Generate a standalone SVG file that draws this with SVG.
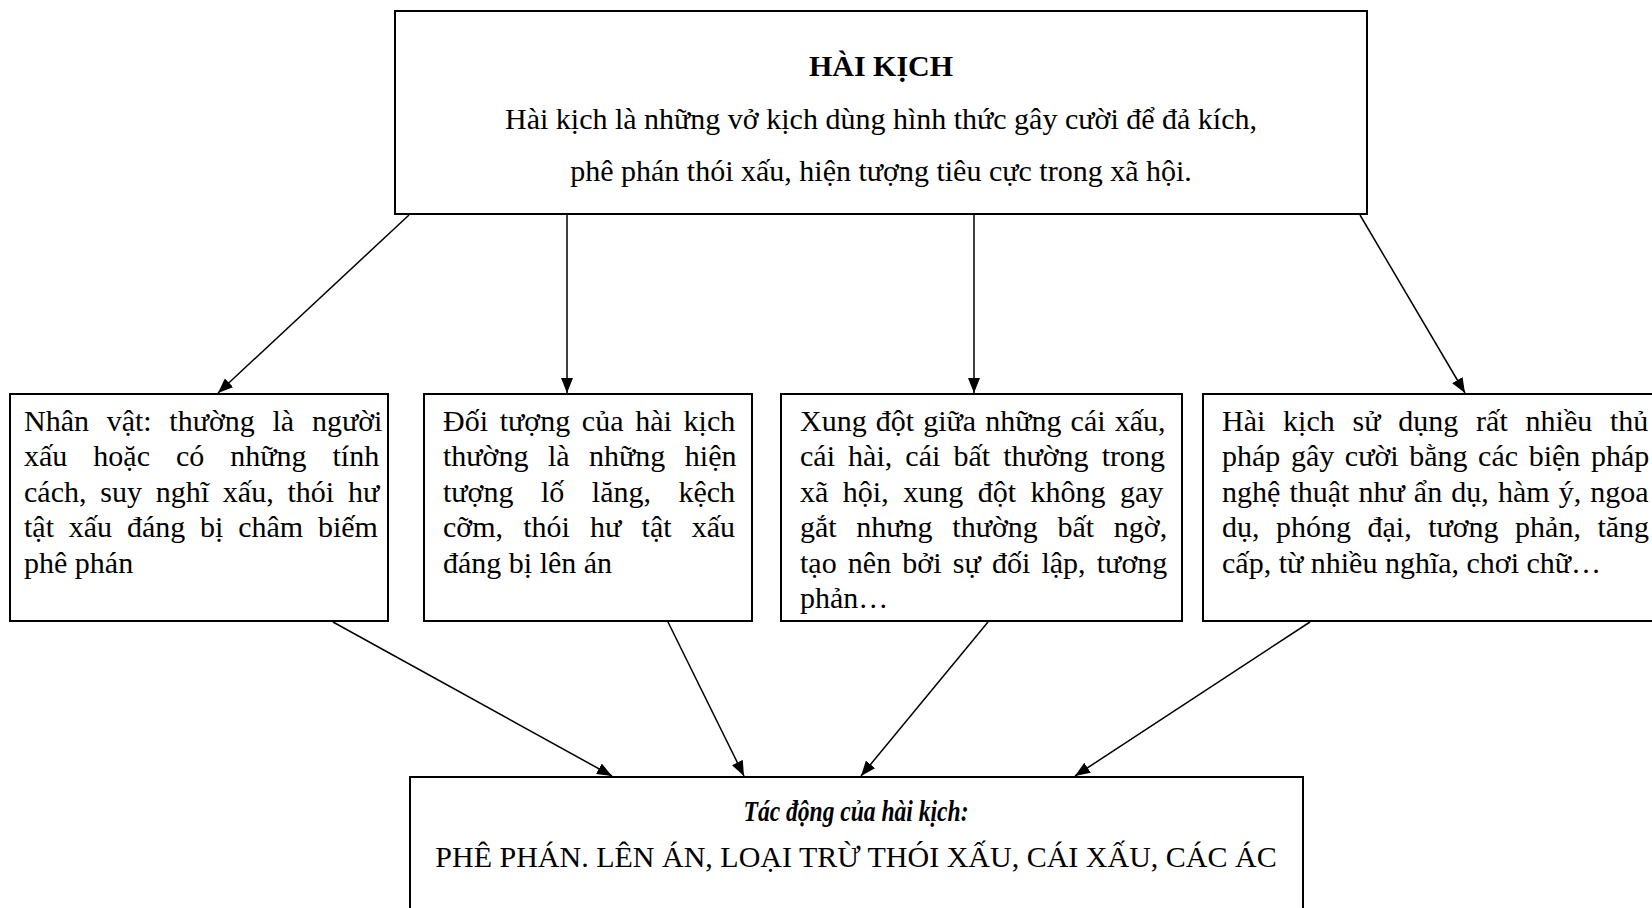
<svg xmlns="http://www.w3.org/2000/svg" width="1652" height="908" viewBox="0 0 1652 908">
<style>
.box{fill:#fff;stroke:#000;stroke-width:2}
.t{font-family:"Liberation Serif","Times New Roman",serif;font-size:30px;fill:#000}
.c{text-anchor:middle}
.b{font-weight:bold}
.bi{font-weight:bold;font-style:italic}
.conn line{stroke:#000;stroke-width:1.5;marker-end:url(#arr)}
</style>
<defs>
<marker id="arr" markerUnits="userSpaceOnUse" markerWidth="16" markerHeight="12" refX="15" refY="6" orient="auto">
<path d="M0,0 L15,6 L0,12 z" fill="#000"/>
</marker>
</defs>
<rect width="1652" height="908" fill="#fff"/>
<g id="top">
<rect class="box" x="395" y="11" width="972" height="203"/>
<text class="t c b" x="881" y="76">HÀI KỊCH</text>
<text class="t c" x="881" y="129">Hài kịch là những vở kịch dùng hình thức gây cười để đả kích,</text>
<text class="t c" x="881" y="181">phê phán thói xấu, hiện tượng tiêu cực trong xã hội.</text>
</g>
<g id="nhanvat">
<rect class="box" x="10" y="394" width="378" height="227"/>
<text class="t" x="24" y="431" word-spacing="10.2">Nhân vật: thường là người</text>
<text class="t" x="24" y="466.4" word-spacing="18.5">xấu hoặc có những tính</text>
<text class="t" x="24" y="501.8" word-spacing="6.3">cách, suy nghĩ xấu, thói hư</text>
<text class="t" x="24" y="537.2" word-spacing="7.3">tật xấu đáng bị châm biếm</text>
<text class="t" x="24" y="572.6">phê phán</text>
</g>
<g id="doituong">
<rect class="box" x="424" y="394" width="328" height="227"/>
<text class="t" x="443" y="431" word-spacing="4.2">Đối tượng của hài kịch</text>
<text class="t" x="443" y="466.4" word-spacing="12">thường là những hiện</text>
<text class="t" x="443" y="501.8" word-spacing="20">tượng lố lăng, kệch</text>
<text class="t" x="443" y="537.2" word-spacing="12.7">cỡm, thói hư tật xấu</text>
<text class="t" x="443" y="572.6">đáng bị lên án</text>
</g>
<g id="xungdot">
<rect class="box" x="781" y="394" width="401" height="227"/>
<text class="t" x="800" y="431" word-spacing="1.6">Xung đột giữa những cái xấu,</text>
<text class="t" x="800" y="466.4" word-spacing="5.6">cái hài, cái bất thường trong</text>
<text class="t" x="800" y="501.8" word-spacing="7">xã hội, xung đột không gay</text>
<text class="t" x="800" y="537.2" word-spacing="12.2">gắt nhưng thường bất ngờ,</text>
<text class="t" x="800" y="572.6" word-spacing="3.7">tạo nên bởi sự đối lập, tương</text>
<text class="t" x="800" y="608">phản…</text>
</g>
<g id="thuphap">
<rect class="box" x="1203" y="394" width="470" height="227"/>
<text class="t" x="1222" y="431" word-spacing="10.3">Hài kịch sử dụng rất nhiều thủ</text>
<text class="t" x="1222" y="466.4" word-spacing="3.1">pháp gây cười bằng các biện pháp</text>
<text class="t" x="1222" y="501.8" word-spacing="1.6">nghệ thuật như ẩn dụ, hàm ý, ngoa</text>
<text class="t" x="1222" y="537.2" word-spacing="9">dụ, phóng đại, tương phản, tăng</text>
<text class="t" x="1222" y="572.6">cấp, từ nhiều nghĩa, chơi chữ…</text>
</g>
<g id="tacdong">
<rect class="box" x="410" y="777" width="893" height="150"/>
<text class="t c bi" x="856" y="821" textLength="225" lengthAdjust="spacingAndGlyphs">Tác động của hài kịch:</text>
<text class="t c" x="856" y="867">PHÊ PHÁN. LÊN ÁN, LOẠI TRỪ THÓI XẤU, CÁI XẤU, CÁC ÁC</text>
</g>
<g id="connectors" class="conn">
<line x1="409" y1="215" x2="218" y2="393"/>
<line x1="567" y1="215" x2="567" y2="393"/>
<line x1="974" y1="215" x2="974" y2="393"/>
<line x1="1360" y1="215" x2="1465" y2="393"/>
<line x1="333" y1="622" x2="612" y2="776"/>
<line x1="668" y1="622" x2="744" y2="776"/>
<line x1="988" y1="622" x2="861" y2="776"/>
<line x1="1310" y1="622" x2="1075" y2="776"/>
</g>
</svg>
